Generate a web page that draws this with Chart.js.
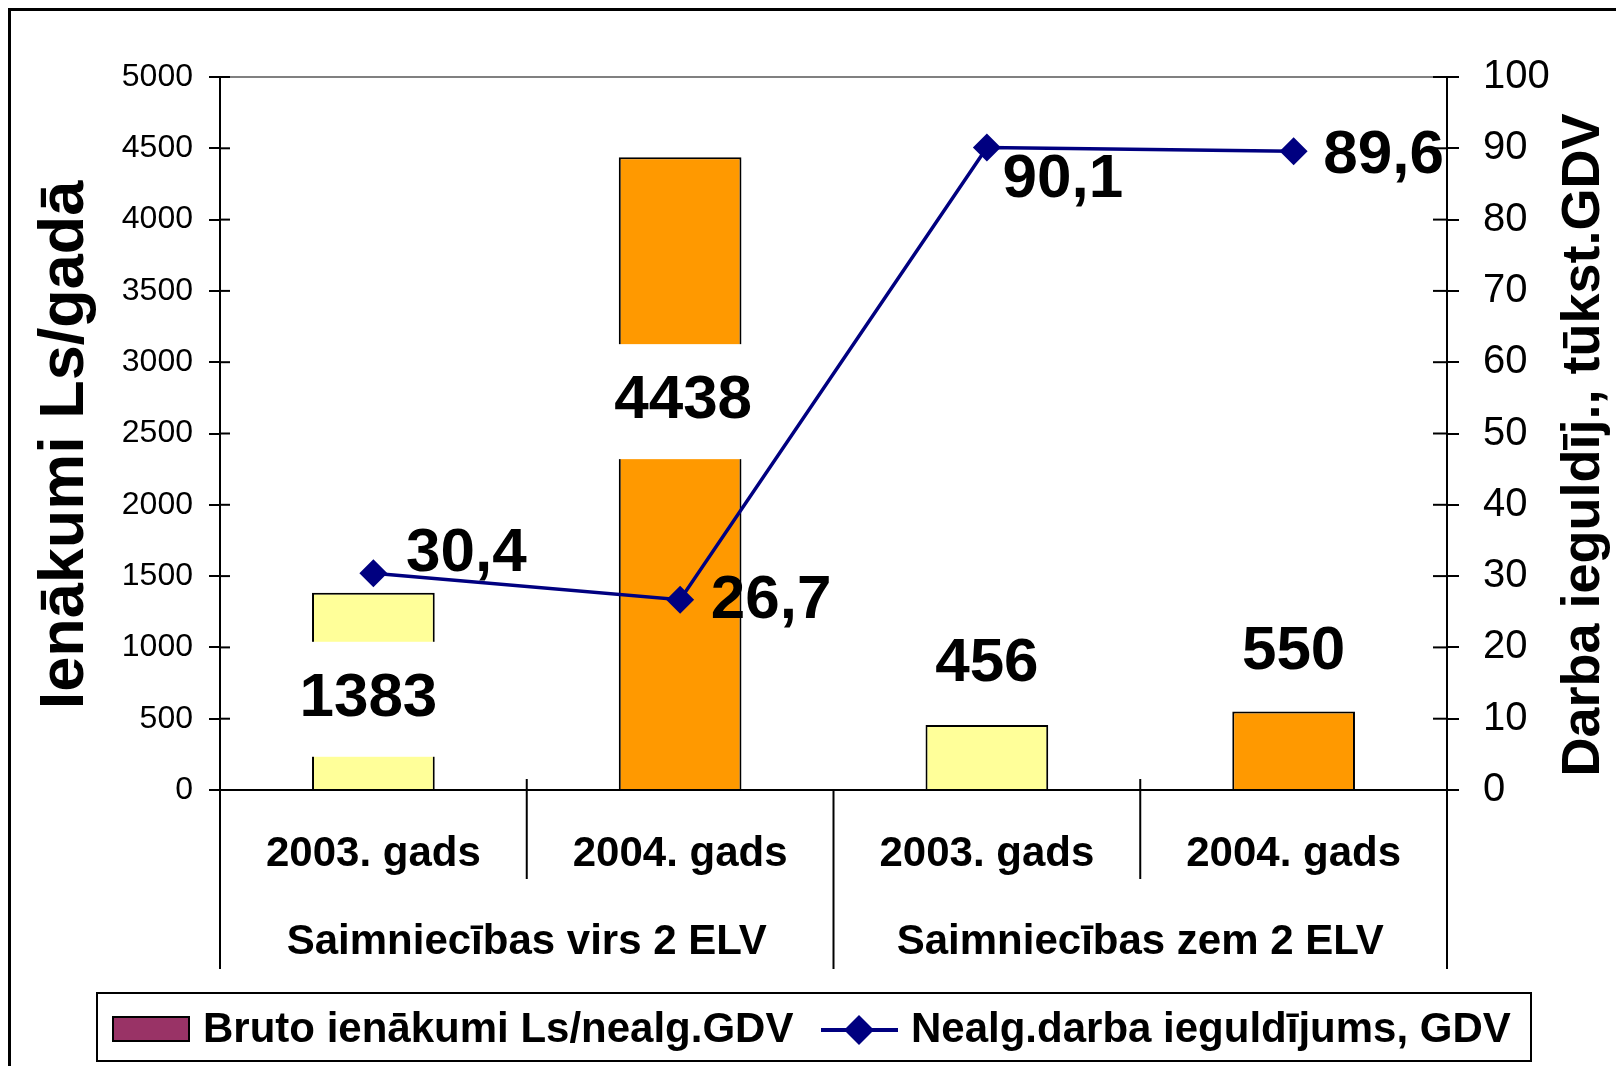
<!DOCTYPE html>
<html>
<head>
<meta charset="utf-8">
<script src="https://cdn.jsdelivr.net/npm/chart.js@4.4.0/dist/chart.umd.min.js"></script>
<style>
body { margin: 0; background: #fff; }
</style>
</head>
<body>
<canvas id="chart" width="1616" height="1066"></canvas>
<script>
// --- data ---
const years = ['2003. gads', '2004. gads', '2003. gads', '2004. gads'];
const groups = ['Saimniecības virs 2 ELV', 'Saimniecības zem 2 ELV'];
const income = [1383, 4438, 456, 550];
const labour = [30.4, 26.7, 90.1, 89.6];
const seriesNames = ['Bruto ienākumi Ls/nealg.GDV', 'Nealg.darba ieguldījums, GDV'];
const axisTitles = ['Ienākumi Ls/gadā', 'Darba ieguldīj., tūkst.GDV'];
const incomeAxis = [0, 5000, 500];
const labourAxis = [0, 100, 10];

// label placement (px), bar labels from bar top, line labels from the point
const barLabelShift = [[-5, 106], [3, 244], [0, -61], [0, -60]];
const lineLabelShift = [[93, -19], [91, 1], [76, 32], [90, 5]];

const FONT = '"Liberation Sans", Arial, sans-serif';
const barColors = ['#FFFF99', '#FF9900', '#FFFF99', '#FF9900'];
const navy = '#000080';

function line(ctx, x1, y1, x2, y2) {
    ctx.beginPath();
    ctx.moveTo(x1, y1);
    ctx.lineTo(x2, y2);
    ctx.stroke();
}

const extras = {
    id: 'extras',
    beforeDraw(chart) {
        const ctx = chart.ctx;
        ctx.save();
        ctx.fillStyle = '#fff';
        ctx.fillRect(0, 0, chart.width, chart.height);
        ctx.strokeStyle = '#000';
        ctx.lineWidth = 3;
        ctx.strokeRect(9.5, 9.5, 2000, 2000);
        ctx.restore();
    },
    afterDatasetsDraw(chart) {
        const ctx = chart.ctx;
        ctx.save();
        ctx.font = 'bold 62px ' + FONT;
        ctx.textAlign = 'center';
        ctx.textBaseline = 'middle';
        chart.getDatasetMeta(1).data.forEach((bar, i) => {
            const cx = bar.x + barLabelShift[i][0];
            const cy = bar.y + barLabelShift[i][1];
            ctx.fillStyle = '#fff';
            ctx.fillRect(bar.x - bar.width / 2 - 3, cy - 57, bar.width + 6, 115);
            ctx.fillStyle = '#000';
            ctx.fillText(String(income[i]), cx, cy);
        });
        chart.getDatasetMeta(0).data.forEach((pt, i) => {
            ctx.fillStyle = '#000';
            ctx.fillText(String(labour[i]).replace('.', ','), pt.x + lineLabelShift[i][0], pt.y + lineLabelShift[i][1]);
        });
        ctx.restore();
    },
    afterDraw(chart) {
        const ctx = chart.ctx;
        const ca = chart.chartArea;
        const xs = chart.scales.x;
        ctx.save();
        // plot area top edge
        ctx.strokeStyle = '#808080';
        ctx.lineWidth = 2;
        line(ctx, ca.left, ca.top, ca.right, ca.top);
        // inner halves of the value ticks
        ctx.strokeStyle = '#000';
        chart.scales.y.ticks.forEach((t, i) => {
            const py = chart.scales.y.getPixelForTick(i);
            line(ctx, ca.left, py, ca.left + 10, py);
        });
        chart.scales.y1.ticks.forEach((t, i) => {
            const py = chart.scales.y1.getPixelForTick(i);
            line(ctx, ca.right - 14, py, ca.right, py);
        });
        // category dividers
        [0.5, 2.5].forEach(v => {
            const x = xs.getPixelForValue(v);
            line(ctx, x, ca.bottom - 11, x, ca.bottom + 89);
        });
        [-0.5, 1.5, 3.5].forEach(v => {
            const x = xs.getPixelForValue(v);
            line(ctx, x, ca.bottom, x, ca.bottom + 179);
        });
        // group labels
        ctx.fillStyle = '#000';
        ctx.font = 'bold 42px ' + FONT;
        ctx.textAlign = 'center';
        ctx.textBaseline = 'middle';
        groups.forEach((g, i) => {
            ctx.fillText(g, xs.getPixelForValue(i * 2 + 0.5), ca.bottom + 152);
        });
        // axis titles
        const midY = 445;
        ctx.save();
        ctx.translate(66, midY);
        ctx.rotate(-Math.PI / 2);
        ctx.font = 'bold 63px ' + FONT;
        ctx.fillText(axisTitles[0], 0, 0);
        ctx.restore();
        ctx.save();
        ctx.translate(1584, midY);
        ctx.rotate(-Math.PI / 2);
        ctx.font = 'bold 54px ' + FONT;
        ctx.fillText(axisTitles[1], 0, 0);
        ctx.restore();
        // legend
        ctx.lineWidth = 2;
        ctx.strokeRect(97, 993, 1434, 68);
        ctx.fillStyle = '#993366';
        ctx.fillRect(113, 1017, 76, 24);
        ctx.strokeRect(113, 1017, 76, 24);
        ctx.strokeStyle = navy;
        ctx.lineWidth = 4;
        line(ctx, 821, 1030, 898, 1030);
        ctx.fillStyle = navy;
        ctx.beginPath();
        ctx.moveTo(859, 1015);
        ctx.lineTo(874, 1030);
        ctx.lineTo(859, 1045);
        ctx.lineTo(844, 1030);
        ctx.closePath();
        ctx.fill();
        ctx.fillStyle = '#000';
        ctx.font = 'bold 42px ' + FONT;
        ctx.textAlign = 'left';
        ctx.fillText(seriesNames[0], 203, 1030);
        ctx.fillText(seriesNames[1], 911, 1030);
        ctx.restore();
    }
};

const ctx = document.getElementById('chart').getContext('2d');
new Chart(ctx, {
    data: {
        labels: years,
        datasets: [{
            type: 'line',
            label: seriesNames[1],
            data: labour,
            yAxisID: 'y1',
            order: 0,
            borderColor: navy,
            borderWidth: 3.5,
            pointStyle: 'rectRot',
            pointRadius: 14,
            pointBackgroundColor: navy,
            pointBorderColor: navy,
            pointBorderWidth: 0,
            tension: 0
        }, {
            type: 'bar',
            label: seriesNames[0],
            data: income,
            yAxisID: 'y',
            order: 1,
            backgroundColor: barColors,
            borderColor: '#000',
            borderWidth: 2,
            categoryPercentage: 1,
            barPercentage: 0.4
        }]
    },
    options: {
        responsive: false,
        animation: false,
        devicePixelRatio: 1,
        layout: { padding: { top: 77, left: 0, right: 0, bottom: 0 } },
        plugins: { legend: { display: false }, tooltip: { enabled: false } },
        scales: {
            x: {
                offset: true,
                grid: { display: false, drawTicks: false },
                border: { display: true, color: '#000', width: 2 },
                ticks: { color: '#000', padding: 39, font: { family: FONT, size: 42, weight: 'bold' }, maxRotation: 0 },
                afterFit: s => { s.height = 276; }
            },
            y: {
                position: 'left',
                min: incomeAxis[0], max: incomeAxis[1],
                ticks: { stepSize: incomeAxis[2], color: '#000', padding: 16, font: { family: FONT, size: 32 }, callback: v => String(v) },
                grid: { drawOnChartArea: false, tickLength: 11, color: '#000', lineWidth: 2 },
                border: { display: true, color: '#000', width: 2 },
                afterFit: s => { s.width = 220; }
            },
            y1: {
                position: 'right',
                min: labourAxis[0], max: labourAxis[1],
                ticks: { stepSize: labourAxis[2], color: '#000', padding: 24, font: { family: FONT, size: 40 }, callback: v => String(v) },
                grid: { drawOnChartArea: false, tickLength: 12, color: '#000', lineWidth: 2 },
                border: { display: true, color: '#000', width: 2 },
                afterFit: s => { s.width = 169; }
            }
        }
    },
    plugins: [extras]
});
</script>
</body>
</html>
